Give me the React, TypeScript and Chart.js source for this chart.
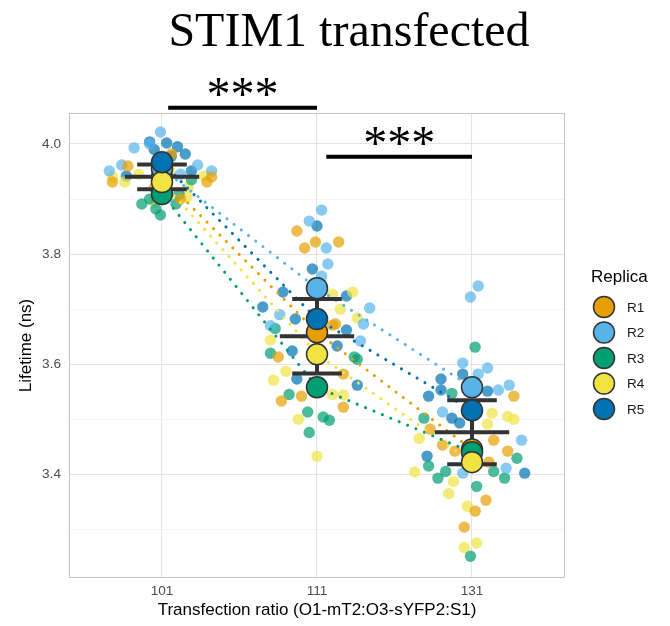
import React, { useEffect, useRef } from 'react';
import { Chart, registerables } from 'chart.js';

Chart.register(...registerables);

// ---------- data ----------
const categories = ['101', '111', '131'];
const replicas = ['R1', 'R2', 'R3', 'R4', 'R5'];
const replicaColors = ['#E69F00', '#56B4E9', '#009E73', '#F0E442', '#0072B2'];

// replicate means per transfection ratio (101, 111, 131)
const meansR1 = [3.94, 3.658, 3.445];
const meansR2 = [3.955, 3.738, 3.558];
const meansR3 = [3.909, 3.558, 3.44];
const meansR4 = [3.931, 3.618, 3.422];
const meansR5 = [3.967, 3.682, 3.516];

// individual cells: [horizontal jitter (category units), lifetime], per ratio
const cellsR1 = [
  [[-0.22, 3.96], [-0.32, 3.931], [0.29, 3.931], [0.32, 3.94], [0.12, 3.9], [0.06, 3.982], [-0.05, 3.92]],
  [[-0.13, 3.842], [-0.01, 3.822], [0.14, 3.822], [-0.08, 3.811], [0.1, 3.671], [-0.25, 3.613], [0.17, 3.582], [-0.23, 3.533], [-0.1, 3.542], [0.17, 3.522], [0.12, 3.673]],
  [[0.27, 3.542], [-0.27, 3.482], [-0.19, 3.453], [0.14, 3.462], [0.23, 3.442], [0.11, 3.422], [0.09, 3.353], [0.02, 3.333], [-0.05, 3.304], [-0.11, 3.442]],
];
const cellsR2 = [
  [[-0.01, 4.022], [-0.18, 3.993], [-0.26, 3.962], [-0.34, 3.951], [0.23, 3.962], [0.32, 3.951], [-0.08, 4.0], [0.12, 3.945]],
  [[0.03, 3.88], [-0.05, 3.86], [0.06, 3.811], [0.07, 3.782], [0.34, 3.702], [0.3, 3.673], [0.28, 3.642], [-0.3, 3.67], [-0.24, 3.69], [0.03, 3.76]],
  [[0.04, 3.742], [-0.01, 3.722], [-0.06, 3.602], [0.04, 3.582], [0.1, 3.593], [0.17, 3.553], [0.24, 3.562], [-0.19, 3.513], [0.32, 3.462], [0.22, 3.411], [-0.06, 3.402]],
];
const cellsR3 = [
  [[-0.13, 3.891], [-0.01, 3.871], [-0.04, 3.882], [0.09, 3.891], [0.11, 3.909], [0.19, 3.935], [-0.08, 3.9]],
  [[-0.27, 3.665], [0.24, 3.613], [0.26, 3.609], [-0.18, 3.545], [-0.06, 3.513], [0.04, 3.504], [0.08, 3.498], [-0.05, 3.476], [-0.3, 3.62]],
  [[0.02, 3.631], [-0.13, 3.547], [-0.31, 3.502], [0.29, 3.429], [-0.28, 3.415], [-0.22, 3.393], [-0.17, 3.405], [0.14, 3.405], [0.21, 3.393], [0.03, 3.378], [-0.01, 3.251]],
];
const cellsR4 = [
  [[-0.32, 3.94], [-0.24, 3.931], [0.27, 3.942], [0.17, 3.922], [0.16, 3.904], [-0.05, 3.896], [-0.15, 3.945], [0.05, 3.95]],
  [[0.1, 3.727], [0.23, 3.731], [0.15, 3.7], [0.26, 3.684], [-0.3, 3.644], [-0.2, 3.587], [-0.28, 3.571], [0.1, 3.545], [0.17, 3.544], [-0.12, 3.5], [0, 3.433]],
  [[0.13, 3.511], [0.23, 3.505], [0.27, 3.5], [0.1, 3.491], [-0.34, 3.465], [-0.37, 3.404], [-0.12, 3.387], [-0.15, 3.365], [-0.03, 3.342], [-0.05, 3.267], [0.03, 3.275]],
];
const cellsR5 = [
  [[-0.08, 4.004], [0.03, 4.002], [0.1, 3.995], [0.15, 3.982], [0.06, 3.978], [0.19, 3.951], [-0.23, 3.942], [-0.05, 3.99], [0, 3.96]],
  [[0, 3.851], [-0.03, 3.773], [0.19, 3.724], [-0.22, 3.731], [-0.35, 3.704], [-0.14, 3.682], [0.19, 3.662], [0.13, 3.633], [-0.16, 3.624], [-0.13, 3.573], [0.26, 3.562]],
  [[-0.06, 3.582], [-0.2, 3.573], [-0.2, 3.553], [-0.28, 3.542], [-0.13, 3.502], [-0.08, 3.493], [0.1, 3.551], [-0.29, 3.433], [0.34, 3.402]],
];

// significance brackets: [from category, to category], label, height (ns)
const sigFrom = [0.04, 1.06];
const sigTo = [1.0, 2.0];
const sigLabels = ['***', '***'];
const sigHeights = [4.066, 3.977];

const chartTitle = 'STIM1 transfected';
const xTitle = 'Transfection ratio (O1-mT2:O3-sYFP2:S1)';
const yTitle = 'Lifetime (ns)';
const legendTitle = 'Replica';
const yMin = 3.2115;
const yMax = 4.0564;

// ---------- helpers ----------
const allMeans = [meansR1, meansR2, meansR3, meansR4, meansR5];
const allCells = [cellsR1, cellsR2, cellsR3, cellsR4, cellsR5];

function hexToRgba(hex: string, a: number) {
  const n = parseInt(hex.slice(1), 16);
  return `rgba(${(n >> 16) & 255},${(n >> 8) & 255},${n & 255},${a})`;
}

function summary(ci: number) {
  const vals = allMeans.map((m) => m[ci]);
  const mean = vals.reduce((a, b) => a + b, 0) / vals.length;
  const sd = Math.sqrt(vals.reduce((a, b) => a + (b - mean) ** 2, 0) / (vals.length - 1));
  return { mean, sd };
}

const SANS = '"Liberation Sans", Arial, Helvetica, sans-serif';
const SERIF = '"Liberation Serif", "Times New Roman", serif';

const decorPlugin = {
  id: 'decor',
  beforeDatasetsDraw(chart: any) {
    const { ctx, chartArea } = chart;
    ctx.save();
    ctx.strokeStyle = '#C4C4C4';
    ctx.lineWidth = 1;
    ctx.strokeRect(chartArea.left + 0.5, chartArea.top + 0.5, chartArea.right - chartArea.left - 1, chartArea.bottom - chartArea.top - 1);
    ctx.restore();
  },
  afterDraw(chart: any) {
    const { ctx, scales } = chart;
    const xs = scales.x;
    const ys = scales.y;
    ctx.save();
    // title
    ctx.fillStyle = '#000';
    ctx.font = `48px ${SERIF}`;
    ctx.textAlign = 'center';
    ctx.textBaseline = 'alphabetic';
    ctx.fillText(chartTitle, 349, 46);

    // significance brackets
    sigLabels.forEach((lab, i) => {
      const x1 = xs.getPixelForValue(sigFrom[i]);
      const x2 = xs.getPixelForValue(sigTo[i]);
      const y = ys.getPixelForValue(sigHeights[i]);
      ctx.strokeStyle = '#000';
      ctx.lineWidth = 4;
      ctx.lineCap = 'butt';
      ctx.beginPath();
      ctx.moveTo(x1, y);
      ctx.lineTo(x2, y);
      ctx.stroke();
      ctx.font = `48px ${SERIF}`;
      const m = ctx.measureText(lab);
      const cy = y - 21;
      const base = cy + (m.actualBoundingBoxAscent - m.actualBoundingBoxDescent) / 2;
      ctx.fillText(lab, (x1 + x2) / 2, base);
    });

    // legend
    ctx.textAlign = 'left';
    ctx.textBaseline = 'middle';
    ctx.fillStyle = '#000';
    ctx.font = `17px ${SANS}`;
    ctx.fillText(legendTitle, 591, 277);
    replicas.forEach((r, i) => {
      const cy = 307 + i * 25.5;
      ctx.beginPath();
      ctx.arc(604, cy, 10.5, 0, Math.PI * 2);
      ctx.fillStyle = replicaColors[i];
      ctx.fill();
      ctx.lineWidth = 1.5;
      ctx.strokeStyle = '#333';
      ctx.stroke();
      ctx.fillStyle = '#1a1a1a';
      ctx.font = `13.6px ${SANS}`;
      ctx.fillText(r, 627, cy + 1);
    });
    ctx.restore();
  },
};

export default function App() {
  const ref = useRef<HTMLCanvasElement | null>(null);
  useEffect(() => {
    if (!ref.current) return;
    const datasets: any[] = [];

    // individual cells
    allCells.forEach((cells, ri) => {
      datasets.push({
        type: 'scatter',
        label: replicas[ri] + ' cells',
        data: cells.flatMap((arr, ci) => arr.map(([j, v]) => ({ x: ci + j, y: v }))),
        backgroundColor: hexToRgba(replicaColors[ri], 0.7),
        borderWidth: 0,
        pointRadius: 5.7,
        order: 30 + ri,
      });
    });

    // dotted connecting lines of replicate means
    allMeans.forEach((means, ri) => {
      datasets.push({
        type: 'line',
        label: replicas[ri] + ' trend',
        data: means.map((m, ci) => ({ x: ci, y: m })),
        borderColor: replicaColors[ri],
        borderWidth: 3,
        borderDash: [0.1, 9],
        borderCapStyle: 'round',
        pointRadius: 0,
        fill: false,
        tension: 0,
        order: 20 + ri,
      });
    });

    // mean ± SD crossbars
    const eb: any[] = [];
    categories.forEach((_, ci) => {
      const { mean, sd } = summary(ci);
      const wCap = 0.16;
      const wMean = 0.24;
      eb.push({ x: ci, y: mean - sd }, { x: ci, y: mean + sd }, { x: ci, y: null });
      eb.push({ x: ci - wCap, y: mean + sd }, { x: ci + wCap, y: mean + sd }, { x: ci, y: null });
      eb.push({ x: ci - wCap, y: mean - sd }, { x: ci + wCap, y: mean - sd }, { x: ci, y: null });
      eb.push({ x: ci - wMean, y: mean }, { x: ci + wMean, y: mean }, { x: ci, y: null });
    });
    datasets.push({
      type: 'line',
      label: 'mean ± SD',
      data: eb,
      borderColor: '#333333',
      borderWidth: 4,
      borderCapStyle: 'butt',
      pointRadius: 0,
      spanGaps: false,
      fill: false,
      order: 10,
    });

    // replicate means
    allMeans.forEach((means, ri) => {
      datasets.push({
        type: 'scatter',
        label: replicas[ri],
        data: means.map((m, ci) => ({ x: ci, y: m })),
        backgroundColor: replicaColors[ri],
        borderColor: '#333333',
        borderWidth: 1.5,
        pointRadius: 10.5,
        order: 5 - ri,
      });
    });

    const isMajor = (v: number) => Math.round(v * 10) % 2 === 0;

    const chart = new Chart(ref.current, {
      type: 'scatter',
      data: { datasets },
      plugins: [decorPlugin],
      options: {
        animation: false,
        responsive: false,
        devicePixelRatio: 1,
        layout: { padding: { top: 113, right: 105, bottom: 0, left: 0 } },
        plugins: { legend: { display: false }, tooltip: { enabled: false }, title: { display: false } },
        scales: {
          x: {
            type: 'linear',
            min: -0.6,
            max: 2.6,
            afterBuildTicks: (s: any) => {
              s.ticks = categories.map((_, i) => ({ value: i }));
            },
            afterFit: (s: any) => {
              s.height = 48;
            },
            ticks: {
              callback: (v: any) => categories[Math.round(Number(v))] ?? '',
              color: '#4D4D4D',
              font: { family: SANS, size: 13.6 },
              padding: 5,
              autoSkip: false,
              maxRotation: 0,
            },
            grid: { color: '#E4E4E4', lineWidth: 1.1, drawTicks: false },
            border: { display: false },
            title: {
              display: true,
              text: xTitle,
              color: '#000',
              font: { family: SANS, size: 17 },
              padding: { top: 0, bottom: 5 },
            },
          },
          y: {
            type: 'linear',
            min: yMin,
            max: yMax,
            afterFit: (s: any) => {
              s.width = 69;
            },
            ticks: {
              stepSize: 0.1,
              includeBounds: false,
              autoSkip: false,
              callback: (v: any) => (isMajor(Number(v)) ? Number(v).toFixed(1) : ''),
              color: '#4D4D4D',
              font: { family: SANS, size: 13.6 },
              padding: 8,
            },
            grid: {
              drawTicks: false,
              color: (c: any) => (c.tick && isMajor(c.tick.value) ? '#E4E4E4' : '#F0F0F0'),
              lineWidth: (c: any) => (c.tick && isMajor(c.tick.value) ? 1.1 : 0.7),
            },
            border: { display: false },
            title: {
              display: true,
              text: yTitle,
              color: '#000',
              font: { family: SANS, size: 17 },
              padding: { top: 16, bottom: 0 },
            },
          },
        },
      } as any,
    });
    return () => chart.destroy();
  }, []);

  return (
    <div style={{ position: 'absolute', left: 0, top: 0, width: 670, height: 626, background: '#fff' }}>
      <canvas ref={ref} width={670} height={626} style={{ display: 'block', width: 670, height: 626 }} />
    </div>
  );
}
